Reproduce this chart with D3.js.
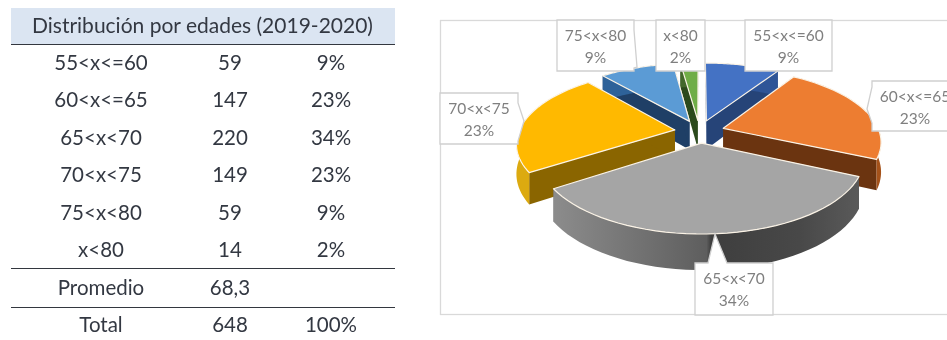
<!DOCTYPE html>
<html><head><meta charset="utf-8">
<style>html,body{margin:0;padding:0;background:#fff;overflow:hidden}svg{display:block;filter:blur(.35px)}</style>
<script src="https://cdn.jsdelivr.net/npm/d3@7"></script></head>
<body><svg id="c" width="947" height="340"></svg>
<script>
const title = "Distribución por edades (2019-2020)";
const categories = ["55<x<=60","60<x<=65","65<x<70","70<x<75","75<x<80","x<80"];
const counts = [59,147,220,149,59,14];
const percents = ["9%","23%","34%","23%","9%","2%"];
const averageRow = ["Promedio","68,3",""];
const totalRow = ["Total","648","100%"];
const topColors = ["#4472c4","#ed7d31","#a5a5a5","#ffb900","#5b9bd5","#70ad47"];
const wallColors = ["#264478","#6b3410","#6b6b6b","#8a6500","#1f3f66","#2c4a1c"];
const outerColors = ["#2f5597","#a5521a","url(#gw)","#dcaa10","#2e6299","#43682b"];

const svg = d3.select("#c");
const font = "Lato, 'Open Sans', sans-serif";

/* ---------- table ---------- */
const tbl = svg.append("g").attr("font-family",font).attr("fill","#333842");
tbl.append("rect").attr("x",11).attr("y",8).attr("width",384).attr("height",36).attr("fill","#dbe5f2");
tbl.append("text").attr("x",202.5).attr("y",33).attr("text-anchor","middle").attr("font-size",21).text(title);
[44,268,307].forEach(y=>tbl.append("line").attr("x1",11).attr("x2",395).attr("y1",y+.5).attr("y2",y+.5).attr("stroke","#33373f").attr("stroke-width",1.2));
const rows = categories.map((c,i)=>[c,String(counts[i]),percents[i]]).concat([averageRow,totalRow]);
const colX = [101,230,331];
const rowY = d3.scaleLinear().domain([0,7]).range([70,332]);
rows.forEach((r,i)=>r.forEach((t,j)=>{
  tbl.append("text").attr("x",colX[j]).attr("y",rowY(i)).attr("text-anchor","middle").attr("font-size",20.5).text(t);
}));

/* ---------- chart frame ---------- */
svg.append("rect").attr("x",440.5).attr("y",20.5).attr("width",520).attr("height",294).attr("fill","#fff").attr("stroke","#d9d9d9").attr("stroke-width",1.3);

/* ---------- 3D exploded pie ---------- */
const defs = svg.append("defs");
const gw = defs.append("linearGradient").attr("id","gw").attr("gradientUnits","userSpaceOnUse").attr("x1",553).attr("x2",860).attr("y1",0).attr("y2",0);
[[0,"#8c8c8c"],[.5,"#5e5e5e"],[.515,"#3e3e3e"],[.8,"#484848"],[1,"#5a5a5a"]].forEach(s=>gw.append("stop").attr("offset",s[0]).attr("stop-color",s[1]));

const cx=699.5, cy=131.5, R=156, K=.455, P=.17, H=29, EXPLODE=.16;
function proj(gx,gz,down){const s=1/(1-gz*P);return [cx+gx*R*s, cy+gz*R*K*s+(down?H*s:0)];}
const pie = d3.pie().sort(null).startAngle(0).endAngle(2*Math.PI)(counts);
const line = d3.line();
const N=40;
function geom(d){
  const m=(d.startAngle+d.endAngle)/2, ox=Math.sin(m)*EXPLODE, oz=-Math.cos(m)*EXPLODE;
  const at=(a,r,down)=>proj(ox+Math.sin(a)*r,oz-Math.cos(a)*r,down);
  const angs=d3.range(N+1).map(i=>d.startAngle+(d.endAngle-d.startAngle)*i/N);
  return {at,angs};
}
const order=[0,5,4,1,3,2];
const pg=svg.append("g");
order.forEach(i=>{
  const d=pie[i],{at,angs}=geom(d);
  [d.startAngle,d.endAngle].forEach(a=>{
    pg.append("path").attr("d",line([at(a,0,false),at(a,1,false),at(a,1,true),at(a,0,true)])+"Z").attr("fill",wallColors[i]);
  });
  const t=angs.map(a=>at(a,1,false)), b=angs.map(a=>at(a,1,true)).reverse();
  pg.append("path").attr("d",line(t.concat(b))+"Z").attr("fill",outerColors[i]);
  pg.append("path").attr("d",line([at(0,0,false)].concat(t))+"Z").attr("fill",topColors[i])
    .attr("stroke","#fbf3e6").attr("stroke-width",1.2).attr("stroke-linejoin","round");
});

/* ---------- callouts: box + pointer tip ---------- */
const boxes=[
 {x:745,y:20,w:87,h:51,tip:[745,63],side:"l"},
 {x:872,y:81,w:86,h:50,tip:[867,109],side:"l"},
 {x:695,y:263,w:78,h:52,tip:[715,234],side:"t"},
 {x:440,y:93,w:78,h:51,tip:[524,121],side:"r"},
 {x:557,y:20,w:77,h:51,tip:[637,67],side:"r"},
 {x:656,y:20,w:49,h:51,tip:null,side:""}
];
const lg=svg.append("g").attr("font-family",font).attr("fill","#7f7f7f").attr("font-size",15.5);
categories.forEach((c,i)=>{
  const b=boxes[i];let pts;
  const x0=b.x,x1=b.x+b.w,y0=b.y,y1=b.y+b.h;
  if(b.side==="t") pts=[[x0,y0],[708,y0],b.tip,[727,y0],[x1,y0],[x1,y1],[x0,y1]];
  else if(b.side==="l") pts=[[x0,y0],[x1,y0],[x1,y1],[x0,y1],[x0,y1-8],b.tip,[x0,y0+6]];
  else if(b.side==="r") pts=[[x0,y0],[x1,y0],[x1,y0+10],b.tip,[x1,y1-3],[x1,y1],[x0,y1]];
  else pts=[[x0,y0],[x1,y0],[x1,y1],[x0,y1]];
  lg.append("path").attr("d",line(pts)+"Z").attr("fill","#fff").attr("stroke","#cfcfcf").attr("stroke-width",1.3);
  const mx=(x0+x1)/2;
  lg.append("text").attr("x",mx).attr("y",y0+21).attr("text-anchor","middle").text(c);
  lg.append("text").attr("x",mx).attr("y",y0+43).attr("text-anchor","middle").text(percents[i]);
});
</script></body></html>
